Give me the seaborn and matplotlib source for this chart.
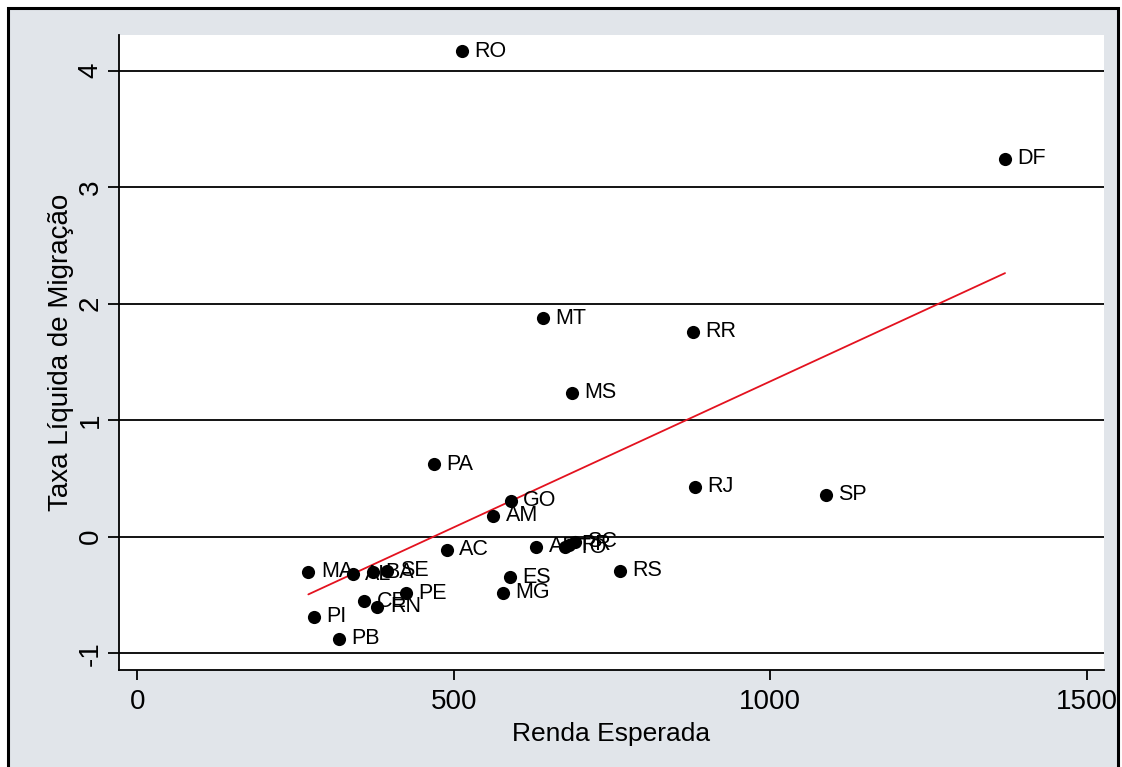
import numpy as np
import pandas as pd
import seaborn as sns
import matplotlib
matplotlib.use("Agg")
import matplotlib.pyplot as plt
from matplotlib.patches import Rectangle

# Estados e valores
ufs = ["RO", "DF", "MT", "RR", "MS", "PA", "RJ", "SP", "GO", "AM",
       "AC", "AP", "TO", "PR", "SC", "RS", "ES", "MG", "MA", "AL",
       "BA", "SE", "PE", "CE", "RN", "PI", "PB"]
renda = [512.3, 1370.9, 640.8, 877.8, 686.6, 468.6, 881.0, 1088.0, 590.0, 561.8,
         489.0, 630.0, 675.5, 681.8, 691.3, 762.5, 588.7, 577.6, 270.0, 340.0,
         371.7, 394.8, 424.3, 357.9, 379.0, 278.9, 318.4]
taxa = [4.165, 3.245, 1.877, 1.757, 1.234, 0.624, 0.427, 0.358, 0.307, 0.178,
        -0.114, -0.088, -0.090, -0.070, -0.043, -0.294, -0.346, -0.483, -0.300, -0.323,
        -0.306, -0.292, -0.486, -0.552, -0.601, -0.687, -0.876]

x_ticks = [0, 500, 1000, 1500]
y_ticks = [-1, 0, 1, 2, 3, 4]

df = pd.DataFrame({"uf": ufs, "renda": renda, "taxa": taxa})

sns.set_theme(style="white")
plt.rcParams["font.family"] = ["Liberation Sans", "DejaVu Sans"]
plt.rcParams["axes.unicode_minus"] = False
plt.rcParams["text.color"] = "black"
plt.rcParams["axes.labelcolor"] = "black"
plt.rcParams["xtick.color"] = "black"
plt.rcParams["ytick.color"] = "black"

W, H = 1122, 767
fig = plt.figure(figsize=(W / 100, H / 100), dpi=100)
fig.patch.set_facecolor("white")

bg = "#e1e5ea"
# moldura externa da região do gráfico
frame = Rectangle((8 / W, -0.05), (1118 - 8) / W, 1.05 - 8 / H,
                  transform=fig.transFigure, facecolor=bg, edgecolor="black",
                  linewidth=2.2, zorder=-5)
fig.patches.append(frame)

ax = fig.add_axes([119 / W, 1 - 670 / H, (1104 - 119) / W, (670 - 35) / H])
ax.set_zorder(1)
ax.set_facecolor("white")

ax.set_xlim(-29.2, 1527.3)
ax.set_ylim(-1.144, 4.306)
ax.set_yticks(y_ticks)
ax.set_xticks(x_ticks)
ax.grid(axis="y", color="black", linewidth=1.3, zorder=0)
ax.grid(axis="x", visible=False)
ax.set_axisbelow(True)

sns.regplot(data=df, x="renda", y="taxa", scatter=False, ci=None, ax=ax,
            line_kws={"color": "#e3121f", "linewidth": 1.3, "zorder": 2})
sns.scatterplot(data=df, x="renda", y="taxa", ax=ax, s=90, color="black",
                edgecolor="black", linewidth=0, zorder=3)

for u, xv, yv in zip(ufs, renda, taxa):
    ax.annotate(u, (xv, yv), xytext=(9, 0), textcoords="offset points",
                ha="left", va="center", fontsize=15.5, color="black", zorder=4)

for side in ["top", "right"]:
    ax.spines[side].set_visible(False)
for side in ["left", "bottom"]:
    ax.spines[side].set_color("black")
    ax.spines[side].set_linewidth(1.3)

ax.tick_params(axis="x", direction="out", length=7, width=1.3, colors="black",
               labelsize=20, pad=7, bottom=True)
ax.tick_params(axis="y", direction="out", length=8, width=1.3, colors="black",
               labelsize=20, pad=3, left=True)
for lab in ax.get_yticklabels():
    lab.set_rotation(90)
    lab.set_va("center")

ax.set_xlabel("Renda Esperada", fontsize=19, labelpad=5, color="black")
ax.set_ylabel("Taxa Líquida de Migração", fontsize=20, labelpad=3, color="black")

fig.savefig("out.png", dpi=100, facecolor=fig.get_facecolor())
